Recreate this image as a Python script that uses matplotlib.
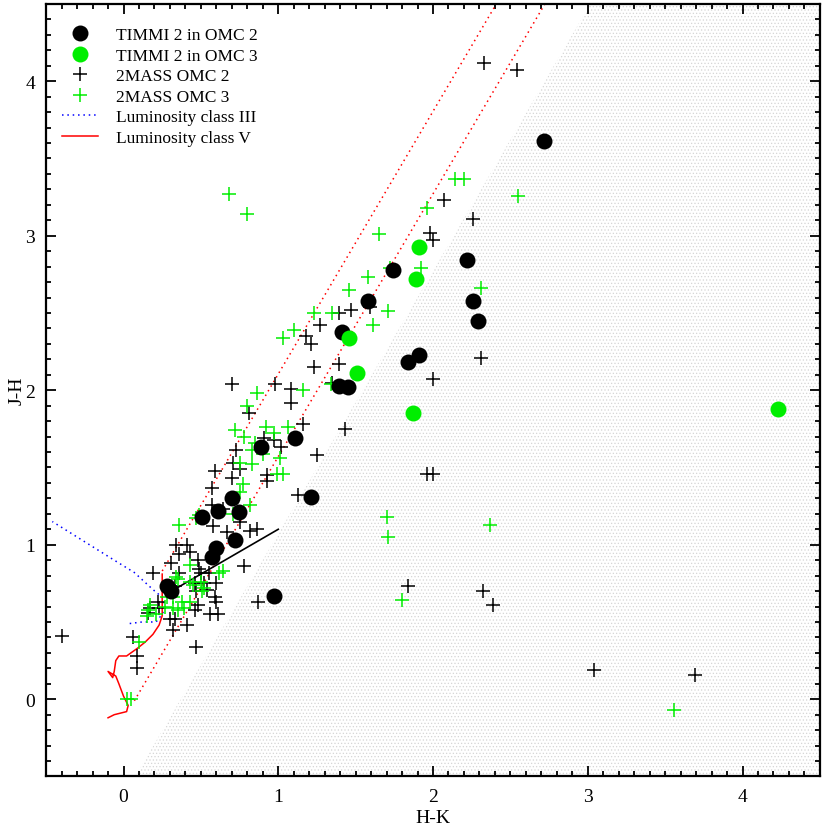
import numpy as np
import matplotlib
matplotlib.use('Agg')
import matplotlib.pyplot as plt
from matplotlib.lines import Line2D
from matplotlib.ticker import MultipleLocator

plt.rcParams['font.family'] = ['Liberation Serif', 'DejaVu Serif']
plt.rcParams['hatch.linewidth'] = 0.5

# TIMMI 2 sources (H-K, J-H)
timmi_omc2_hk = [2.72, 2.22, 2.26, 2.29, 1.74, 1.58, 1.91, 1.84, 1.41, 1.39, 1.45, 1.11,
                 0.89, 1.21, 0.70, 0.745, 0.61, 0.51, 0.60, 0.57, 0.72, 0.97, 0.28, 0.31]
timmi_omc2_jh = [3.61, 2.84, 2.58, 2.45, 2.78, 2.58, 2.23, 2.18, 2.38, 2.03, 2.02, 1.69,
                 1.63, 1.31, 1.30, 1.21, 1.22, 1.18, 0.98, 0.92, 1.03, 0.67, 0.73, 0.70]
timmi_omc3_hk = [1.91, 1.89, 1.46, 1.51, 1.87, 4.23]
timmi_omc3_jh = [2.93, 2.72, 2.34, 2.11, 1.85, 1.88]

# 2MASS sources
mass_omc2_hk = [2.33, 2.54, 2.07, 2.26, 1.98, 2.00, 1.47, 1.59, 1.39, 1.27, 1.18, 1.21, 1.23,
                1.39, 1.35, 2.00, 2.31, 0.70, 0.98, 1.08, 1.08, 0.81, 1.43, 1.16, 0.97, 0.91,
                1.02, 1.25, 0.73, 0.70, 0.93, 0.93, 1.96, 2.00, 0.71, 0.75, 0.59, 0.57, 1.13,
                0.57, 0.64, 0.58, 0.75, 0.67, 0.82, 0.86, 0.34, 0.41, 0.36, 0.43, 0.31, 0.48,
                0.49, 0.19, 0.36, 0.50, 0.55, 0.60, 0.78, 0.52, 0.46, 0.33, 0.47, 0.54, 0.59,
                0.60, 0.87, 0.56, 0.61, 0.48, 0.46, 0.41, 0.33, 0.30, 0.32, 0.47, 0.22, 0.23,
                0.17, 0.16, 0.06, 0.09, 0.09, -0.40, 1.84, 2.32, 2.39, 3.04, 3.69]
mass_omc2_jh = [4.12, 4.07, 3.23, 3.11, 3.02, 2.97, 2.52, 2.54, 2.50, 2.42, 2.35, 2.30, 2.15,
                2.17, 2.05, 2.07, 2.21, 2.04, 2.04, 2.01, 1.92, 1.85, 1.75, 1.78, 1.68, 1.69,
                1.63, 1.58, 1.61, 1.43, 1.45, 1.41, 1.46, 1.46, 1.53, 1.49, 1.48, 1.37, 1.32,
                1.26, 1.23, 1.12, 1.15, 1.08, 1.09, 1.10, 1.00, 1.00, 0.94, 0.95, 0.88, 0.90,
                0.84, 0.82, 0.82, 0.82, 0.82, 0.75, 0.86, 0.75, 0.75, 0.73, 0.70, 0.71, 0.66,
                0.63, 0.63, 0.55, 0.55, 0.61, 0.58, 0.48, 0.52, 0.52, 0.45, 0.34, 0.63, 0.59,
                0.59, 0.56, 0.40, 0.28, 0.20, 0.41, 0.73, 0.70, 0.61, 0.19, 0.155]
mass_omc3_hk = [0.68, 0.80, 2.14, 2.20, 2.55, 1.96, 1.65, 1.92, 2.31, 1.58, 1.46, 1.72, 1.71,
                1.61, 1.23, 1.35, 2.29, 1.10, 1.03, 1.34, 1.16, 0.86, 0.80, 0.72, 0.78, 0.92,
                0.97, 1.06, 0.85, 0.83, 0.90, 1.01, 0.75, 0.83, 1.03, 0.99, 0.77, 0.75, 0.82,
                0.71, 0.49, 0.47, 0.36, 0.43, 0.35, 0.62, 0.64, 0.43, 0.50, 0.52, 0.34, 0.30,
                0.28, 0.32, 0.38, 0.43, 0.27, 0.32, 0.35, 0.39, 0.17, 0.16, 0.21, 0.15, 0.51,
                0.45, 0.10, 0.02, 0.05, 1.70, 1.71, 2.37, 1.80, 3.56]
mass_omc3_jh = [3.27, 3.14, 3.37, 3.37, 3.26, 3.18, 3.01, 2.79, 2.66, 2.73, 2.65, 2.79, 2.51,
                2.42, 2.50, 2.50, 2.44, 2.39, 2.34, 2.04, 2.00, 1.98, 1.90, 1.74, 1.70, 1.76,
                1.72, 1.76, 1.66, 1.61, 1.59, 1.56, 1.53, 1.52, 1.46, 1.46, 1.39, 1.34, 1.26,
                1.20, 1.19, 1.17, 1.13, 0.87, 0.78, 0.82, 0.83, 0.76, 0.76, 0.72, 0.79, 0.71,
                0.66, 0.66, 0.63, 0.63, 0.60, 0.59, 0.58, 0.59, 0.61, 0.58, 0.55, 0.54, 0.70,
                0.74, 0.37, 0.00, 0.00, 1.18, 1.05, 1.13, 0.64, -0.07]

# intrinsic loci
giant_hk = [0.04, 0.12, 0.21, 0.25, 0.27, 0.25, 0.19, 0.07, -0.06, -0.46]
giant_jh = [0.49, 0.50, 0.50, 0.55, 0.60, 0.66, 0.71, 0.82, 0.90, 1.15]
dwarf_hk = [-0.10, -0.06, 0.02, 0.03, 0.00, -0.03, -0.05, -0.10, -0.07, -0.06, -0.05,
            -0.03, 0.02, 0.09, 0.14, 0.19, 0.23, 0.25, 0.25, 0.25]
dwarf_jh = [-0.12, -0.10, -0.08, -0.04, 0.02, 0.10, 0.15, 0.18, 0.14, 0.18, 0.25,
            0.28, 0.28, 0.33, 0.37, 0.42, 0.48, 0.54, 0.60, 0.81]
ctts_hk = [0.30, 1.00]
ctts_slope, ctts_icpt = 0.58, 0.52

# reddening band (slope 1.7) and infrared excess region
red_slope = 1.7
red_start_hk = [0.25, 0.07]
red_start_jh = [0.83, -0.01]
excess_hk0, excess_jh0 = 1.14, 1.31

xlim = (-0.5, 4.5)
ylim = (-0.5, 4.5)

fig = plt.figure(figsize=(8.24, 8.28), dpi=100)
ax = fig.add_axes([0.056, 0.061, 0.939, 0.933])

# shaded infrared excess region
yy = np.array(ylim)
xx = excess_hk0 + (yy - excess_jh0) / red_slope
ax.fill([xx[0], xx[1], xlim[1], xlim[1]], [yy[0], yy[1], yy[1], yy[0]],
        facecolor='none', edgecolor='#d6d6d6', hatch='.....', linewidth=0, zorder=0)

# reddening lines
for x0, y0 in zip(red_start_hk, red_start_jh):
    x1 = x0 + (ylim[1] + 0.2 - y0) / red_slope
    ax.plot([x0, x1], [y0, ylim[1] + 0.2], color='red', linestyle=(0, (1, 2.5)), lw=1.1, zorder=2)

ax.plot(giant_hk, giant_jh, color='blue', linestyle=(0, (1, 2.5)), lw=1.1, zorder=2)
ax.plot(dwarf_hk, dwarf_jh, color='red', lw=1.1, zorder=2)
ax.plot(ctts_hk, [ctts_slope * h + ctts_icpt for h in ctts_hk], color='black', lw=1.2, zorder=2)

ax.plot(mass_omc2_hk, mass_omc2_jh, '+', color='black', ms=10, mew=1.1, zorder=3)
ax.plot(mass_omc3_hk, mass_omc3_jh, '+', color='#00ee00', ms=10, mew=1.1, zorder=3)
ax.plot(timmi_omc2_hk, timmi_omc2_jh, 'o', color='black', ms=11.5, mew=0, zorder=4)
ax.plot(timmi_omc3_hk, timmi_omc3_jh, 'o', color='#00ee00', ms=11.5, mew=0, zorder=4)

ax.set_xlim(xlim)
ax.set_ylim(ylim)
ax.xaxis.set_major_locator(MultipleLocator(1))
ax.yaxis.set_major_locator(MultipleLocator(1))
ax.xaxis.set_minor_locator(MultipleLocator(0.1))
ax.yaxis.set_minor_locator(MultipleLocator(0.1))
ax.tick_params(which='both', direction='in', top=True, right=True, width=1.3)
ax.tick_params(which='major', length=7, labelsize=14, pad=8)
ax.tick_params(which='minor', length=3.5)
for sp in ax.spines.values():
    sp.set_linewidth(1.6)
ax.set_xlabel('H-K', fontsize=14, labelpad=3)
ax.set_ylabel('J-H', fontsize=14, labelpad=0)

handles = [
    Line2D([], [], marker='o', color='black', ls='none', ms=11.5, mew=0),
    Line2D([], [], marker='o', color='#00ee00', ls='none', ms=11.5, mew=0),
    Line2D([], [], marker='+', color='black', ls='none', ms=10, mew=1.1),
    Line2D([], [], marker='+', color='#00ee00', ls='none', ms=10, mew=1.1),
    Line2D([], [], color='blue', linestyle=(0, (1, 2.5)), lw=1.1),
    Line2D([], [], color='red', lw=1.1),
]
labels = ['TIMMI 2 in OMC 2', 'TIMMI 2 in OMC 3', '2MASS OMC 2', '2MASS OMC 3',
          'Luminosity class III', 'Luminosity class V']
ax.legend(handles, labels, loc='upper left', frameon=False, fontsize=12.5,
          handlelength=2.1, handletextpad=1.0, labelspacing=0.25,
          bbox_to_anchor=(0.0, 0.99))

fig.savefig('out.png', dpi=100)
